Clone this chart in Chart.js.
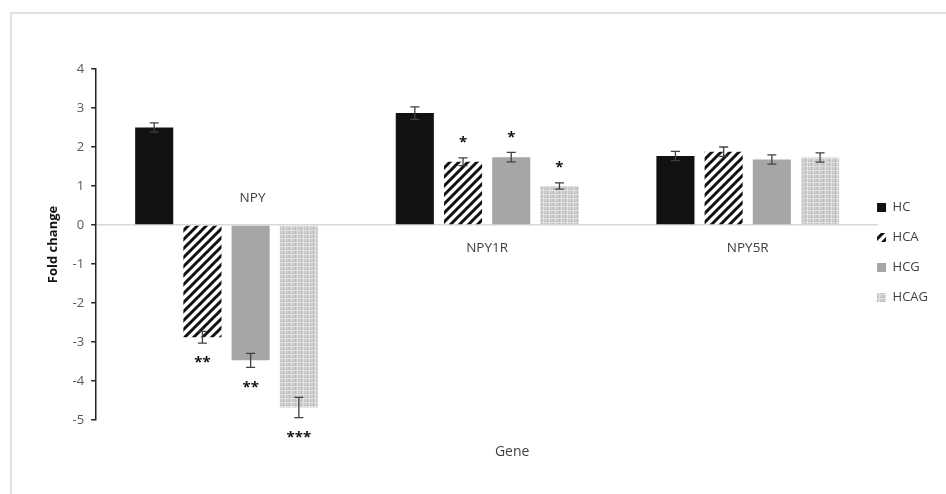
<!DOCTYPE html>
<html lang="en">
<head>
  <meta charset="UTF-8" />
  <title>Fold change by gene</title>
  <script src="https://cdn.jsdelivr.net/npm/chart.js"></script>
  <style>
    html, body { margin: 0; padding: 0; background: #fff; overflow: hidden; }
    #wrap { position: relative; width: 946px; height: 494px; }
    #frame { position: absolute; left: 10px; top: 12px; width: 960px; height: 500px;
             border-left: 2px solid #e2e2e2; border-top: 2px solid #e2e2e2; }
    canvas { position: absolute; left: 0; top: 0; }
  </style>
</head>
<body>
  <div id="wrap">
    <div id="frame"></div>
    <canvas id="geneChart" width="946" height="494"></canvas>
  </div>

  <script>
    // data
    const genes = ['NPY', 'NPY1R', 'NPY5R'];
    const groups = ['HC', 'HCA', 'HCG', 'HCAG'];
    const hc   = [2.50, 2.87, 1.77];
    const hca  = [-2.88, 1.62, 1.88];
    const hcg  = [-3.47, 1.74, 1.68];
    const hcag = [-4.68, 1.00, 1.73];
    const hcErr   = [0.12, 0.16, 0.12];
    const hcaErr  = [0.15, 0.10, 0.12];
    const hcgErr  = [0.18, 0.12, 0.12];
    const hcagErr = [0.26, 0.08, 0.12];
    const hcSig   = ['', '', ''];
    const hcaSig  = ['**', '*', ''];
    const hcgSig  = ['**', '*', ''];
    const hcagSig = ['***', '*', ''];
    const yTicks = [4, 3, 2, 1, 0, -1, -2, -3, -4, -5];

    const FONT = '"Open Sans", Lato, sans-serif';

    function stripes() {
      const c = document.createElement('canvas');
      c.width = 9; c.height = 9;
      const g = c.getContext('2d');
      g.fillStyle = '#fff';
      g.fillRect(0, 0, 9, 9);
      g.strokeStyle = '#111';
      g.lineWidth = 3;
      g.beginPath();
      g.moveTo(-2, 11); g.lineTo(11, -2);
      g.moveTo(-11, 11); g.lineTo(2, -2);
      g.moveTo(7, 11); g.lineTo(20, -2);
      g.stroke();
      return g.createPattern(c, 'repeat');
    }

    function dotted() {
      const c = document.createElement('canvas');
      c.width = 6; c.height = 4;
      const g = c.getContext('2d');
      g.fillStyle = '#cdcdcd';
      g.fillRect(0, 0, 6, 4);
      g.fillStyle = '#b9b9b9';
      g.fillRect(1, 0, 1, 4);
      g.fillRect(4, 1, 1, 1);
      g.fillStyle = '#e0e0e0';
      g.fillRect(3, 0, 1, 4);
      g.fillRect(0, 2, 6, 1);
      return g.createPattern(c, 'repeat');
    }

    const errs = [hcErr, hcaErr, hcgErr, hcagErr];
    const sigs = [hcSig, hcaSig, hcgSig, hcagSig];

    const extras = {
      id: 'extras',
      afterLayout(chart) {
        // pull the legend in next to the plot, as in the original
        chart.legend.left -= 18;
        chart.legend.right -= 18;
        chart.legend.top += 8;
        chart.legend.bottom += 8;
      },
      afterDatasetsDraw(chart) {
        const ctx = chart.ctx;
        const y = chart.scales.y;
        const x = chart.scales.x;
        const area = chart.chartArea;
        ctx.save();
        chart.data.datasets.forEach((ds, di) => {
          const meta = chart.getDatasetMeta(di);
          meta.data.forEach((bar, i) => {
            const v = ds.data[i];
            const e = errs[di][i];
            const top = y.getPixelForValue(v + e);
            const bot = y.getPixelForValue(v - e);
            ctx.strokeStyle = '#404040';
            ctx.lineWidth = 1.3;
            ctx.beginPath();
            ctx.moveTo(bar.x, top); ctx.lineTo(bar.x, bot);
            ctx.moveTo(bar.x - 4.5, top); ctx.lineTo(bar.x + 4.5, top);
            ctx.moveTo(bar.x - 4.5, bot); ctx.lineTo(bar.x + 4.5, bot);
            ctx.stroke();
            const s = sigs[di][i];
            if (s) {
              ctx.fillStyle = '#111';
              ctx.font = 'bold 15px ' + FONT;
              ctx.textAlign = 'center';
              ctx.textBaseline = 'middle';
              const sy = v < 0 ? y.getPixelForValue(v - e) + 20 : y.getPixelForValue(v + e) - 15;
              ctx.fillText(s, bar.x, sy);
            }
          });
        });
        // category labels sit on the zero line
        const zero = y.getPixelForValue(0);
        ctx.fillStyle = '#404040';
        ctx.font = '13.5px ' + FONT;
        ctx.textAlign = 'center';
        ctx.textBaseline = 'middle';
        genes.forEach((g, i) => {
          const below = chart.data.datasets.some(ds => ds.data[i] < 0);
          const cx = x.getPixelForValue(i);
          if (below) ctx.fillText(g, cx + 26, zero - 27);
          else ctx.fillText(g, cx, zero + 23);
        });
        ctx.font = '14px ' + FONT;
        ctx.fillText('Gene', (area.left + area.right) / 2 + 25, 452);
        ctx.restore();
      }
    };

    new Chart(document.getElementById('geneChart'), {
      type: 'bar',
      data: {
        labels: genes,
        datasets: [
          { label: groups[0], data: hc, backgroundColor: '#111111' },
          { label: groups[1], data: hca, backgroundColor: stripes() },
          { label: groups[2], data: hcg, backgroundColor: '#a6a6a6' },
          { label: groups[3], data: hcag, backgroundColor: dotted() }
        ]
      },
      options: {
        responsive: false,
        animation: false,
        events: [],
        layout: { padding: { left: 41, right: -10, top: 69, bottom: 74 } },
        datasets: { bar: { categoryPercentage: 0.74, barPercentage: 0.79 } },
        plugins: {
          tooltip: { enabled: false },
          legend: {
            position: 'right',
            align: 'center',
            labels: {
              boxWidth: 9,
              boxHeight: 9,
              padding: 17,
              color: '#404040',
              font: { family: FONT, size: 13 }
            }
          }
        },
        scales: {
          x: { display: false },
          y: {
            min: -5,
            max: 4,
            afterBuildTicks(scale) { scale.ticks = yTicks.map(v => ({ value: v })); },
            border: { color: '#222', width: 1.5 },
            grid: {
              color: c => (c.tick && c.tick.value === 0 ? '#d9d9d9' : 'transparent'),
              tickColor: '#222',
              tickLength: 5,
              lineWidth: 1.5
            },
            ticks: { color: '#595959', padding: 7, font: { family: FONT, size: 13 } },
            title: {
              display: true,
              text: 'Fold change',
              color: '#111',
              padding: { top: 4, bottom: 5 },
              font: { family: FONT, size: 13, weight: 'bold' }
            }
          }
        }
      },
      plugins: [extras]
    });
  </script>
</body>
</html>
